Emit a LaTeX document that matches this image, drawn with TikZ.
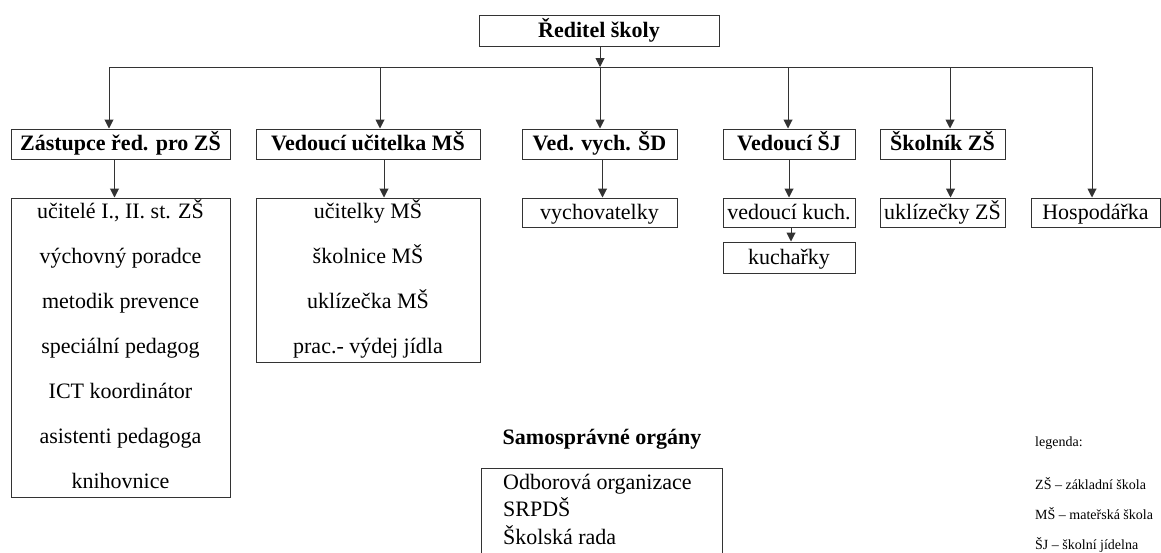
\documentclass[tikz,border=0pt]{standalone}
\usepackage{fontspec}
\setmainfont{Liberation Serif}
\usepackage{tikz}
\usetikzlibrary{arrows.meta}
\usetikzlibrary{positioning}

\tikzset{
  box/.style={draw=black!80, line width=1pt, inner sep=0pt, minimum height=30pt,
    text height=17pt, text depth=4pt, font=\fontsize{22}{26}\selectfont},
  head/.style={box, font=\fontsize{22}{26}\selectfont\bfseries},
  item/.style={inner sep=0pt, text height=17pt, text depth=4pt, font=\fontsize{22}{26}\selectfont},
  leg/.style={inner sep=0pt, anchor=west, text height=11pt, text depth=3pt, font=\fontsize{14}{16}\selectfont},
  arr/.style={draw=black!80, line width=1pt, -{Triangle[width=9pt,length=9pt]}},
  wire/.style={draw=black!80, line width=1pt}
}

\begin{document}
\begin{tikzpicture}[x=1pt,y=-1pt]
\useasboundingbox (0,0) rectangle (1161,552);

% reditel a prvni uroven
\node[head, minimum width=240, minimum height=31] (red) at (599,30.5) {Ředitel školy};
\node[head, minimum width=219] (zast) at (120.5,144) {Zástupce řed. pro ZŠ};
\node[head, minimum width=224] (ved) at (368,144) {Vedoucí učitelka MŠ};
\node[head, minimum width=155] (vych) at (599.5,144) {Ved. vych. ŠD};
\node[head, minimum width=132] (sj) at (789,144) {Vedoucí ŠJ};
\node[head, minimum width=125] (skol) at (942.5,144) {Školník ZŠ};

% druha uroven
\node[box, minimum width=219, minimum height=299] (zlist) at (120.5,347.5) {};
\foreach \t [count=\i from 0] in {{učitelé  I., II. st. ZŠ}, výchovný poradce, metodik prevence,
    speciální pedagog, ICT koordinátor, asistenti pedagoga, knihovnice}
  \node[item] (z\i) at (120.5,{212+45*\i}) {\t};
\node[box, minimum width=224, minimum height=164] (vlist) at (368,280) {};
\foreach \t [count=\i from 0] in {učitelky MŠ, školnice MŠ, uklízečka MŠ, prac.- výdej jídla}
  \node[item] (v\i) at (368,{212+45*\i}) {\t};
\node[box, minimum width=155, minimum height=29] (vychl) at (599.5,212.5) {vychovatelky};
\node[box, minimum width=132, minimum height=29] (kuchv) at (789,212.5) {vedoucí kuch.};
\node[box, minimum width=132, minimum height=31] (kuch) at (789,257.5) {kuchařky};
\node[box, minimum width=125, minimum height=29] (ukl) at (942.5,212.5) {uklízečky ZŠ};
\node[box, minimum width=129, minimum height=29] (hosp) at (1095.5,212.5) {Hospodářka};

% sbernice
\coordinate (b1) at (109,67);
\coordinate (b2) at (380,67);
\coordinate (b3) at (600,67);
\coordinate (b4) at (788,67);
\coordinate (b5) at (950,67);
\coordinate (b6) at (1092,67);
\draw[wire] (b1) -- (b6);
\draw[arr] (red.south -| b3) -- (b3);
\foreach \b/\n in {b1/zast, b2/ved, b3/vych, b4/sj, b5/skol, b6/hosp}
  \draw[arr] (\b) -- (\b |- \n.north);

\draw[arr] ([xshift=-6]zast.south) -- ([xshift=-6]zlist.north);
\draw[arr] ([xshift=16]ved.south) -- ([xshift=16]vlist.north);
\draw[arr] ([xshift=3]vych.south) -- ([xshift=3]vychl.north);
\draw[arr] (sj) -- (kuchv);
\draw[arr] ([xshift=8]skol.south) -- ([xshift=8]ukl.north);
\draw[arr] ([xshift=2]kuchv.south) -- ([xshift=2]kuch.north);

% samospravne organy
\node[item, font=\fontsize{22}{26}\selectfont\bfseries] (samt) at (602,438) {Samosprávné orgány};
\node[draw=black!80, line width=1pt, inner sep=0pt, minimum width=241, minimum height=100] (samb) at (601.5,518) {};
\foreach \t/\y [count=\i] in {Odborová organizace/483, SRPDŠ/510, Školská rada/538}
  \node[item, anchor=west] (s\i) at (503,\y) {\t};

% legenda
\node[leg] (lg) at (1035,442) {legenda:};
\node[leg] (l1) at (1035,485) {ZŠ – základní škola};
\node[leg] (l2) at (1035,515) {MŠ – mateřská škola};
\node[leg] (l3) at (1035,545) {ŠJ – školní jídelna};
\end{tikzpicture}
\end{document}
